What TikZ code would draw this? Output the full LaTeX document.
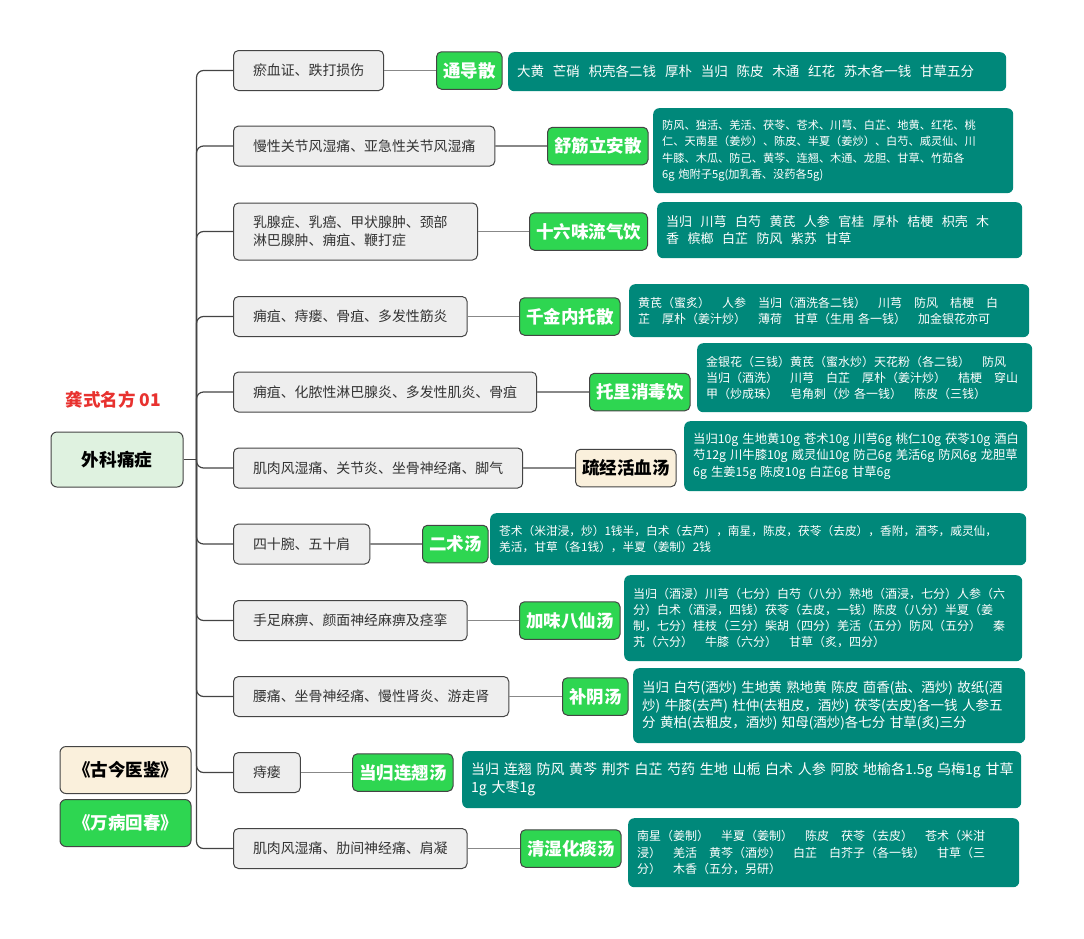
\documentclass[tikz,border=0pt]{standalone}
\usepackage{fontspec}
\setmainfont{Noto Sans CJK SC}
\usetikzlibrary{positioning}
\definecolor{herbbg}{HTML}{00887A}
\definecolor{recipebg}{HTML}{2ED651}
\definecolor{illbg}{HTML}{EEEEEE}
\definecolor{illline}{HTML}{444444}
\definecolor{illtext}{HTML}{333333}
\definecolor{rootbg}{HTML}{DFF2E0}
\definecolor{bookbg}{HTML}{FAF0DC}
\definecolor{titlered}{HTML}{E8322F}
\definecolor{treeline}{HTML}{444444}
\definecolor{linkgray}{HTML}{888888}
\newcommand\gp{\nobreak\hspace{.65em}}
\newcommand\fs[2]{\fontsize{#1}{#2}\selectfont}

\begin{document}
\begin{tikzpicture}[x=1pt,y=-1pt,
    ill/.style={draw=illline, fill=illbg, text=illtext, rounded corners=5, line width=1,
      inner xsep=19.5, inner ysep=0, minimum height=40, anchor=west, align=left, font=\fs{13.9}{18}},
    recipe/.style={draw=illline, fill=recipebg, text=white, rounded corners=5, line width=1,
      inner xsep=6.5, inner ysep=0, minimum height=37.5, anchor=west, font=\bfseries\fs{17.5}{21}},
    herbs/.style={fill=herbbg, text=white, rounded corners=6, anchor=north west, align=left,
      inner xsep=9, inner ysep=0},
    book/.style={draw=illline, rounded corners=6, line width=1, minimum width=131,
      minimum height=47, font=\bfseries\fs{17.5}{20}},
    tree/.style={draw=treeline, line width=1.2, rounded corners=7},
    link/.style={draw=linkgray, line width=1.5}]
  \path[use as bounding box, fill=white] (0,0) rectangle (1084,938);

  % left side
  \node[font=\bfseries\fs{17.5}{21}, text=titlered] (title) at (113.5,400) {龚式名方 01};
  \node[draw=illline, fill=rootbg, rounded corners=6, line width=1, minimum width=132,
    minimum height=55, font=\bfseries\fs{17.7}{21}] (root) at (117,459.5) {外科痛症};
  \node[book, fill=bookbg] (gujin) at (125.5,770) {《古今医鉴》};
  \node[book, fill=recipebg, text=white, below=5pt of gujin] (wanbing) {《万病回春》};

  % illnesses
  \node[ill] (ill1) at (233,70.5) {瘀血证、跌打损伤};
  \node[ill] (ill2) at (233,146) {慢性关节风湿痛、亚急性关节风湿痛};
  \node[ill, minimum height=57, text width=205] (ill3) at (233,231.5) {乳腺症、乳癌、甲状腺肿、颈部\\淋巴腺肿、痈疽、鞭打症};
  \node[ill] (ill4) at (233,316.5) {痈疽、痔瘘、骨疽、多发性筋炎};
  \node[ill] (ill5) at (233,392) {痈疽、化脓性淋巴腺炎、多发性肌炎、骨疽};
  \node[ill] (ill6) at (233,468) {肌肉风湿痛、关节炎、坐骨神经痛、脚气};
  \node[ill] (ill7) at (233,544) {四十腕、五十肩};
  \node[ill] (ill8) at (233,620.5) {手足麻痹、颜面神经麻痹及痉挛};
  \node[ill] (ill9) at (233,696.5) {腰痛、坐骨神经痛、慢性肾炎、游走肾};
  \node[ill] (ill10) at (233,772.5) {痔瘘};
  \node[ill] (ill11) at (233,848.5) {肌肉风湿痛、肋间神经痛、肩凝};

  % recipes
  \node[recipe] (rx1) at (436,70.5) {通导散};
  \node[recipe] (rx2) at (547,146) {舒筋立安散};
  \node[recipe] (rx3) at (529,231.5) {十六味流气饮};
  \node[recipe] (rx4) at (519,316.5) {千金内托散};
  \node[recipe] (rx5) at (589,392) {托里消毒饮};
  \node[recipe, fill=bookbg, text=black] (rx6) at (575,468) {疏经活血汤};
  \node[recipe] (rx7) at (422,544) {二术汤};
  \node[recipe] (rx8) at (519,620.5) {加味八仙汤};
  \node[recipe] (rx9) at (562,696.5) {补阴汤};
  \node[recipe] (rx10) at (352,772.5) {当归连翘汤};
  \node[recipe] (rx11) at (520,848.5) {清湿化痰汤};

  % herbs
  \node[herbs, text width=480, minimum height=39, font=\fs{13.5}{18}] (hb1) at (508,52)
    {大黄\gp 芒硝\gp 枳壳各二钱\gp 厚朴\gp 当归\gp 陈皮\gp 木通\gp 红花\gp 苏木各一钱\gp 甘草五分};
  \node[herbs, text width=342, minimum height=85, font=\fs{11.2}{16.3}] (hb2) at (653,108)
    {防风、独活、羌活、茯苓、苍术、川芎、白芷、地黄、红花、桃\\
     仁、天南星（姜炒）、陈皮、半夏（姜炒）、白芍、威灵仙、川\\
     牛膝、木瓜、防己、黄芩、连翘、木通、龙胆、甘草、竹茹各\\
     6g~炮附子5g(加乳香、没药各5g)};
  \node[herbs, text width=347, minimum height=56, font=\fs{13}{16.5}] (hb3) at (657,202)
    {当归\gp 川芎\gp 白芍\gp 黄芪\gp 人参\gp 官桂\gp 厚朴\gp 桔梗\gp 枳壳\gp 木\\
     香\gp 槟榔\gp 白芷\gp 防风\gp 紫苏\gp 甘草};
  \node[herbs, text width=382, minimum height=53, font=\fs{12}{16}] (hb4) at (629,284)
    {黄芪（蜜炙）　人参　当归（酒洗各二钱）　川芎　防风　桔梗　白\\
     芷　厚朴（姜汁炒）　薄荷　甘草（生用~各一钱）　加金银花亦可};
  \node[herbs, text width=317, minimum height=69, font=\fs{12}{16}] (hb5) at (697,343)
    {金银花（三钱）黄芪（蜜水炒）天花粉（各二钱）　防风\\
     当归（酒洗）　川芎　白芷　厚朴（姜汁炒）　桔梗　穿山\\
     甲（炒成珠）　皂角刺（炒~各一钱）　陈皮（三钱）};
  \node[herbs, text width=325, minimum height=70, font=\fs{12.3}{16.5}] (hb6) at (684,421)
    {当归10g~生地黄10g~苍术10g~川芎6g~桃仁10g~茯苓10g~酒白\\
     芍12g~川牛膝10g~威灵仙10g~防己6g~羌活6g~防风6g~龙胆草\\
     6g~生姜15g~陈皮10g~白芷6g~甘草6g};
  \node[herbs, text width=518, minimum height=52, font=\fs{11.7}{16}] (hb7) at (490,513)
    {苍术（米泔浸，炒）1钱半，白术（去芦），南星，陈皮，茯苓（去皮），香附，酒芩，威灵仙，\\
     羌活，甘草（各1钱），半夏（姜制）2钱};
  \node[herbs, text width=380, minimum height=86, font=\fs{12}{16}] (hb8) at (624,575)
    {当归（酒浸）川芎（七分）白芍（八分）熟地（酒浸，七分）人参（六\\
     分）白术（酒浸，四钱）茯苓（去皮，一钱）陈皮（八分）半夏（姜\\
     制，七分）桂枝（三分）柴胡（四分）羌活（五分）防风（五分）　秦\\
     艽（六分）　牛膝（六分）　甘草（炙，四分）};
  \node[herbs, text width=374, minimum height=75, font=\fs{13.5}{17.5}] (hb9) at (633,668)
    {当归~白芍(酒炒)~生地黄~熟地黄~陈皮~茴香(盐、酒炒)~故纸(酒\\
     炒)~牛膝(去芦)~杜仲(去粗皮，酒炒)~茯苓(去皮)各一钱~人参五\\
     分~黄柏(去粗皮，酒炒)~知母(酒炒)各七分~甘草(炙)三分};
  \node[herbs, text width=541, minimum height=57, font=\fs{14}{18}] (hb10) at (462,751)
    {当归~连翘~防风~黄芩~荆芥~白芷~芍药~生地~山栀~白术~人参~阿胶~地榆各1.5g~乌梅1g~甘草\\
     1g~大枣1g};
  \node[herbs, text width=373, minimum height=69, font=\fs{12}{16.5}] (hb11) at (628,818)
    {南星（姜制）　半夏（姜制）　陈皮　茯苓（去皮）　苍术（米泔\\
     浸）　羌活　黄芩（酒炒）　白芷　白芥子（各一钱）　甘草（三\\
     分）　木香（五分，另研）};

  % connectors
  \coordinate (hub) at (196.5,459.5);
  \draw[tree] (root.east) -- (hub);
  \foreach \i in {1,...,11} {
    \draw[tree] (hub) |- (ill\i.west);
    \draw[link] (ill\i.east) -- (rx\i.west);
  }
\end{tikzpicture}
\end{document}
